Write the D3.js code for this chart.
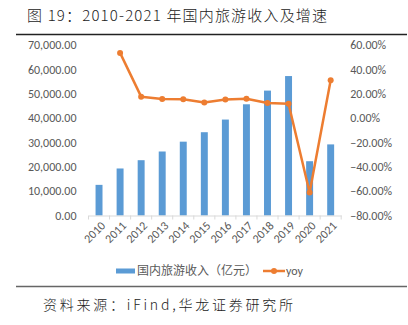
<!DOCTYPE html>
<html>
<head>
<meta charset="utf-8">
<script src="https://cdn.jsdelivr.net/npm/d3@7"></script>
<style>
  html, body { margin: 0; padding: 0; background: #fff; }
  svg { display: block; }
</style>
</head>
<body>
<svg id="chart" width="408" height="325"></svg>
<script>
// Domestic tourism revenue (100 million yuan) and year-on-year growth
const years = ["2010","2011","2012","2013","2014","2015","2016","2017","2018","2019","2020","2021"];
const revenue = [12580, 19305, 22706, 26276, 30312, 34195, 39390, 45661, 51278, 57251, 22286, 29191];
const yoy = [null, 53.5, 17.6, 15.7, 15.4, 12.8, 15.2, 15.9, 12.3, 11.7, -61.1, 31.0];
const leftTicks = [0, 10000, 20000, 30000, 40000, 50000, 60000, 70000];
const rightTicks = [-80, -60, -40, -20, 0, 20, 40, 60];

const svg = d3.select("#chart");
const cjk = "'Noto Sans CJK SC', 'Noto Sans', sans-serif";
const latin = "Calibri, 'Liberation Sans', 'Noto Sans', sans-serif";

// Title and rules
svg.append("text")
  .attr("x", 27).attr("y", 21)
  .attr("font-family", cjk).attr("font-size", 15).attr("font-weight", 300).attr("fill", "#222")
  .attr("textLength", 300).attr("lengthAdjust", "spacing")
  .text("图 19：2010-2021 年国内旅游收入及增速");
svg.append("line").attr("x1", 16).attr("x2", 407).attr("y1", 34.5).attr("y2", 34.5)
  .attr("stroke", "#222").attr("stroke-width", 1.3);
svg.append("line").attr("x1", 16).attr("x2", 407).attr("y1", 286.5).attr("y2", 286.5)
  .attr("stroke", "#666").attr("stroke-width", 1.5);
svg.append("text")
  .attr("x", 43).attr("y", 310)
  .attr("font-family", cjk).attr("font-size", 14).attr("font-weight", 300).attr("fill", "#222")
  .attr("textLength", 250).attr("lengthAdjust", "spacing")
  .text("资料来源：iFind,华龙证券研究所");

// Scales
const plotLeft = 88.5, plotRight = 341.2, plotTop = 45, plotBottom = 215.5;
const x = d3.scaleBand().domain(years).range([plotLeft, plotRight]).paddingInner(0.67).paddingOuter(0.335);
const xBand = d3.scaleBand().domain(years).range([plotLeft, plotRight]);
const yL = d3.scaleLinear().domain([0, 70000]).range([plotBottom, plotTop]);
const yR = d3.scaleLinear().domain([-80, 60]).range([plotBottom, plotTop]);

// Left axis
const leftAxis = svg.append("g")
  .attr("transform", `translate(${plotLeft - 12},0)`)
  .call(d3.axisLeft(yL).tickValues(leftTicks).tickSize(0).tickPadding(0)
    .tickFormat(d => d3.format(",.2f")(d)));
leftAxis.select(".domain").remove();
leftAxis.selectAll("text").attr("font-family", latin).attr("font-size", 12).attr("fill", "#595959");

// Right axis
const rightAxis = svg.append("g")
  .attr("transform", `translate(${plotRight + 9},0)`)
  .call(d3.axisRight(yR).tickValues(rightTicks).tickSize(0).tickPadding(0)
    .tickFormat(d => d3.format(".2f")(d) + "%"));
rightAxis.select(".domain").remove();
rightAxis.selectAll("text").attr("font-family", latin).attr("font-size", 12).attr("fill", "#595959");

// Bars
svg.append("g").selectAll("rect").data(years).join("rect")
  .attr("x", d => x(d))
  .attr("width", x.bandwidth())
  .attr("y", (d, i) => yL(revenue[i]))
  .attr("height", (d, i) => yL(0) - yL(revenue[i]))
  .attr("fill", "#5b9bd5");

// Category axis
const bottomAxis = svg.append("g")
  .attr("transform", `translate(0,${plotBottom})`)
  .call(d3.axisBottom(xBand).tickSize(0).tickPadding(0));
bottomAxis.select(".domain").attr("stroke", "#d9d9d9");
bottomAxis.selectAll("text")
  .attr("font-family", latin).attr("font-size", 12).attr("fill", "#595959")
  .attr("text-anchor", "end")
  .attr("transform", "translate(4,8) rotate(-45)")
  .attr("dy", "0.35em");
// tick marks at band edges
bottomAxis.append("g").selectAll("line").data(years.concat(["end"])).join("line")
  .attr("x1", (d, i) => i < years.length ? xBand(d) : plotRight)
  .attr("x2", (d, i) => i < years.length ? xBand(d) : plotRight)
  .attr("y1", 0).attr("y2", 4)
  .attr("stroke", "#d9d9d9");

// YoY line
const yoyPts = years.map((d, i) => ({ year: d, v: yoy[i] })).filter(p => p.v !== null);
const line = d3.line().x(p => xBand(p.year) + xBand.bandwidth() / 2).y(p => yR(p.v));
svg.append("path").datum(yoyPts)
  .attr("d", line).attr("fill", "none")
  .attr("stroke", "#ed7d31").attr("stroke-width", 2.5).attr("stroke-linejoin", "round");
svg.append("g").selectAll("circle").data(yoyPts).join("circle")
  .attr("cx", p => xBand(p.year) + xBand.bandwidth() / 2)
  .attr("cy", p => yR(p.v))
  .attr("r", 3).attr("fill", "#ed7d31");

// Legend
const lg = svg.append("g");
lg.append("rect").attr("x", 116).attr("y", 268.5).attr("width", 19).attr("height", 5).attr("fill", "#5b9bd5");
lg.append("text").attr("x", 137).attr("y", 271).attr("dy", "0.35em")
  .attr("font-family", cjk).attr("font-size", 12).attr("fill", "#595959")
  .text("国内旅游收入（亿元）");
lg.append("line").attr("x1", 263).attr("x2", 285).attr("y1", 271).attr("y2", 271)
  .attr("stroke", "#ed7d31").attr("stroke-width", 2.5);
lg.append("circle").attr("cx", 274).attr("cy", 271).attr("r", 3).attr("fill", "#ed7d31");
lg.append("text").attr("x", 286).attr("y", 271).attr("dy", "0.35em")
  .attr("font-family", latin).attr("font-size", 12).attr("fill", "#595959")
  .text("yoy");
</script>
</body>
</html>
